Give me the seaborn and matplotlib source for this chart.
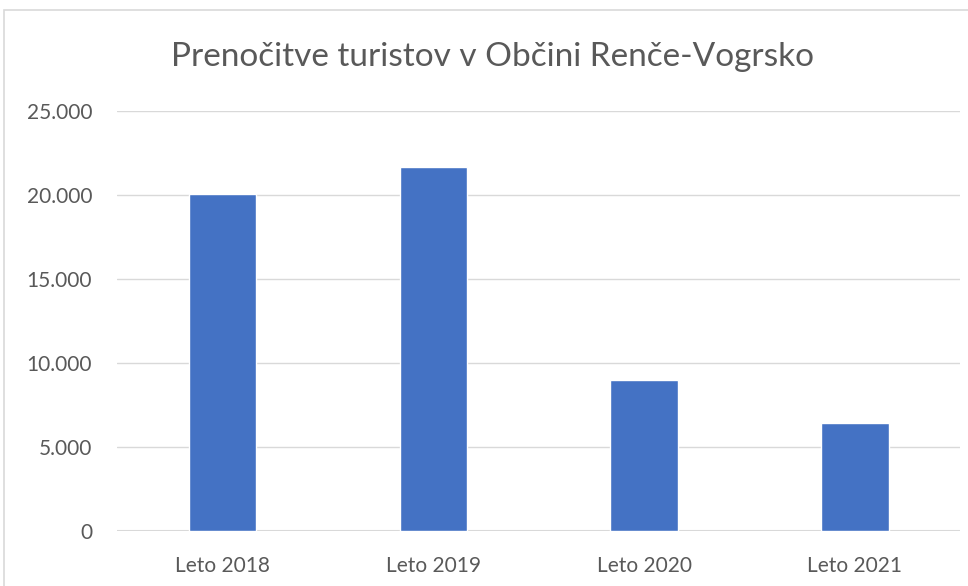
import matplotlib
matplotlib.use('Agg')
import matplotlib.pyplot as plt
import matplotlib.patches as mpatches
from matplotlib.ticker import FuncFormatter
import seaborn as sns
import pandas as pd

# data
years = ['Leto 2018', 'Leto 2019', 'Leto 2020', 'Leto 2021']
overnight_stays = [20060, 21680, 8990, 6430]
y_ticks = [0, 5000, 10000, 15000, 20000, 25000]

sns.set_style('white')
plt.rcParams['font.family'] = ['Lato', 'DejaVu Sans']

df = pd.DataFrame({'leto': years, 'prenocitve': overnight_stays})

fig = plt.figure(figsize=(9.68, 5.86), dpi=100)
ax = fig.add_axes([0.121, 0.0939, 0.871, 0.7167])

sns.barplot(data=df, x='leto', y='prenocitve', color='#4472C4',
            saturation=1, width=0.32, ax=ax)

ax.set_ylim(0, 25000)
ax.set_yticks(y_ticks)
ax.yaxis.set_major_formatter(FuncFormatter(lambda v, p: f'{int(v):,}'.replace(',', '.')))
ax.set_xlabel('')
ax.set_ylabel('')
ax.grid(axis='y', color='#d9d9d9', linewidth=1)
ax.set_axisbelow(True)
for s in ax.spines.values():
    s.set_visible(False)
ax.axhline(0, color='#d9d9d9', linewidth=1.5, zorder=0)
ax.tick_params(axis='both', length=0, labelsize=15, labelcolor='#595959')
ax.tick_params(axis='y', pad=18)
ax.tick_params(axis='x', pad=18)

fig.text(0.509, 0.903, 'Prenočitve turistov v Občini Renče-Vogrsko',
         ha='center', va='center', fontsize=24, color='#595959')

# chart frame (cropped at right/bottom)
fig.patches.append(mpatches.Rectangle((0.004, -0.1), 1.2, 1.083, transform=fig.transFigure,
                                      fill=False, edgecolor='#d9d9d9', linewidth=1.2))

fig.savefig('out.png', dpi=100)
